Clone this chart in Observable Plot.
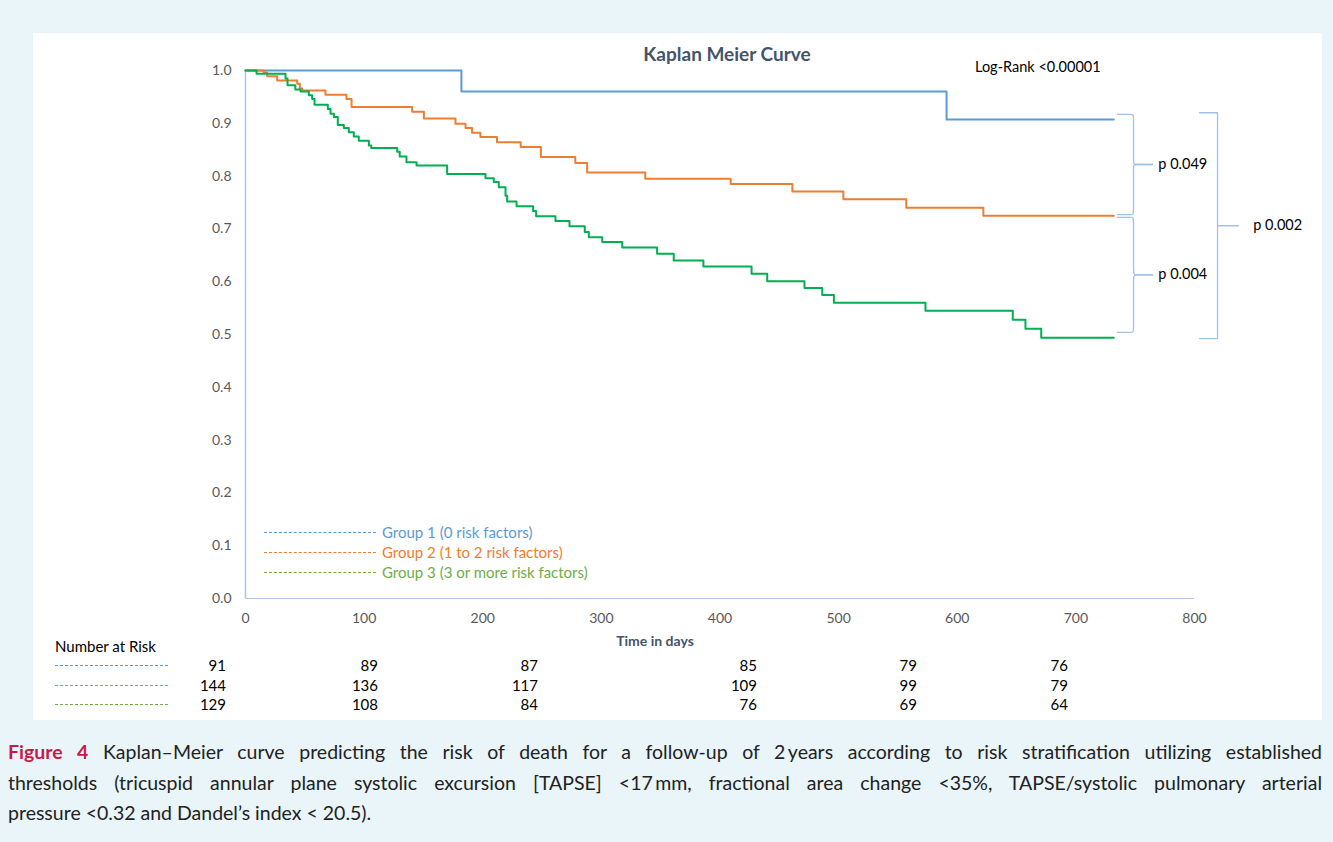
<!DOCTYPE html>
<html>
<head>
<meta charset="utf-8">
<script src="https://cdn.jsdelivr.net/npm/d3@7"></script>
<script src="https://cdn.jsdelivr.net/npm/@observablehq/plot@0.6"></script>
<style>
  html, body { margin: 0; padding: 0; }
  body { width: 1333px; height: 842px; background: #e9f5f8; position: relative; overflow: hidden; font-family: Lato, "Open Sans", sans-serif; }
  #panel { position: absolute; left: 33px; top: 33px; width: 1289px; height: 687px; background: #fff; }
  #chart { position: absolute; left: 0; top: 0; }
  .t { position: absolute; white-space: nowrap; font-size: 14.5px; line-height: 1; }
  .dash { position: absolute; height: 0; border-top: 1px dashed; }
  .cap { position: absolute; left: 8px; width: 1314px; font-family: Lato, sans-serif; font-size: 19.5px; line-height: 22px; color: #222; white-space: nowrap; text-align: justify; text-align-last: justify; }
</style>
</head>
<body>
<div id="panel"></div>
<div id="chart"></div>
<script>
// ---- data ----
const groupNames = ["Group 1 (0 risk factors)", "Group 2 (1 to 2 risk factors)", "Group 3 (3 or more risk factors)"];
const groupColors = ["#5b9bd5", "#ed7d31", "#00b050"];
const legendTextColors = ["#5b9bd5", "#ed7d31", "#70ad47"];

const g1Days = [0, 182, 591, 732];
const g1Surv = [1.0, 0.960, 0.907, 0.907];

const g2Days = [0, 15.5, 18.3, 26.7, 43.6, 45.8, 47.8, 67.4, 85.1, 89.4, 140.5, 150.4, 177, 185.5, 191, 198, 212, 232, 249, 278, 288, 337, 409, 461, 504, 557, 622, 732];
const g2Surv = [1.0, 0.996, 0.989, 0.981, 0.975, 0.966, 0.962, 0.954, 0.946, 0.931, 0.922, 0.909, 0.899, 0.891, 0.882, 0.874, 0.864, 0.855, 0.836, 0.825, 0.807, 0.795, 0.785, 0.771, 0.756, 0.740, 0.725, 0.725];

const g3Days = [0, 9.3, 33.7, 35.4, 42, 46.4, 53.4, 56.2, 58.2, 69.4, 71.7, 74.5, 77.8, 82.9, 87.1, 91.3, 95.5, 104, 106, 127.9, 130, 135.7, 144.2, 170, 202.3, 209.3, 213.5, 219.2, 220.6, 228.5, 242.5, 245, 261.3, 273.1, 286, 289.4, 300.7, 317.6, 347, 361, 386, 426.6, 439.8, 471.2, 486.2, 496, 573.2, 646.8, 657.5, 670.8, 732];
const g3Surv = [1.0, 0.994, 0.985, 0.972, 0.964, 0.960, 0.953, 0.946, 0.935, 0.927, 0.918, 0.912, 0.897, 0.891, 0.883, 0.875, 0.867, 0.858, 0.853, 0.846, 0.837, 0.826, 0.820, 0.804, 0.796, 0.789, 0.779, 0.763, 0.752, 0.743, 0.734, 0.724, 0.715, 0.705, 0.694, 0.684, 0.675, 0.665, 0.653, 0.640, 0.629, 0.615, 0.601, 0.588, 0.575, 0.560, 0.545, 0.528, 0.511, 0.494, 0.494];

const xTicks = [0, 100, 200, 300, 400, 500, 600, 700, 800];
const yTicks = [0, 0.1, 0.2, 0.3, 0.4, 0.5, 0.6, 0.7, 0.8, 0.9, 1.0];

const pairLabels = ["p 0.049", "p 0.004"];
const pairTops = [0.917, 0.722];
const pairBottoms = [0.727, 0.504];
const overallLabel = "p 0.002";
const overallTop = 0.920;
const overallBottom = 0.492;

const atRisk1 = [91, 89, 87, 85, 79, 76];
const atRisk2 = [144, 136, 117, 109, 99, 79];
const atRisk3 = [129, 108, 84, 76, 69, 64];

const titleText = "Kaplan Meier Curve";
const logRankText = "Log-Rank <0.00001";
const xLabelText = "Time in days";
const riskTitle = "Number at Risk";

// ---- build rows ----
const rows = [];
[[g1Days, g1Surv], [g2Days, g2Surv], [g3Days, g3Surv]].forEach(([d, s], i) => {
  d.forEach((day, j) => rows.push({group: groupNames[i], day, surv: s[j]}));
});

// brace geometry (in data units, beyond the x domain)
const bx0 = 735, bSpine = 748.6, bTip = 764.6, bLabel = 769.5;
const sx0 = 804.2, sSpine = 819.4, sTick = 837, sLabel = 849.5;
const braceRows = [];
pairLabels.forEach((lab, i) => {
  const top = pairTops[i], bot = pairBottoms[i], mid = (top + bot) / 2;
  const up = [[bx0, top], [bSpine, top], [bSpine, top], [bSpine, mid], [bSpine, mid], [bTip, mid]];
  const dn = [[bx0, bot], [bSpine, bot], [bSpine, bot], [bSpine, mid], [bSpine, mid], [bTip, mid]];
  up.forEach(p => braceRows.push({id: lab + "u", x: p[0], y: p[1]}));
  dn.forEach(p => braceRows.push({id: lab + "d", x: p[0], y: p[1]}));
});
const overallMid = (overallTop + overallBottom) / 2;
const squareRows = [
  {id: "s", x: sx0, y: overallTop}, {id: "s", x: sSpine, y: overallTop},
  {id: "s", x: sSpine, y: overallBottom}, {id: "s", x: sx0, y: overallBottom},
  {id: "t", x: sSpine, y: overallMid}, {id: "t", x: sTick, y: overallMid}
];
const pLabels = pairLabels.map((l, i) => ({x: bLabel, y: (pairTops[i] + pairBottoms[i]) / 2, text: l}));
pLabels.push({x: sLabel, y: overallMid, text: overallLabel});

const bracketColor = "#9dc3e6";

const chart = Plot.plot({
  width: 1333,
  height: 640,
  marginLeft: 245,
  marginRight: 139,
  marginTop: 70,
  marginBottom: 42,
  style: {fontFamily: "Lato, sans-serif", fontSize: "14px", color: "#595959", background: "transparent", overflow: "visible"},
  x: {domain: [0, 800], ticks: xTicks, tickSize: 0, tickPadding: 15, label: null},
  y: {domain: [0, 1], ticks: yTicks, tickSize: 0, tickPadding: 14, tickFormat: d3.format(".1f"), label: null},
  color: {domain: groupNames, range: groupColors},
  marks: [
    Plot.ruleY([0], {stroke: "#b4c4de", strokeWidth: 1.2}),
    Plot.ruleX([0], {stroke: "#a9c4e6", strokeWidth: 1.5}),
    Plot.line(rows, {x: "day", y: "surv", z: "group", stroke: "group", curve: "step-after", strokeWidth: 2}),
    Plot.line(braceRows, {x: "x", y: "y", z: "id", stroke: bracketColor, strokeWidth: 1.3, curve: "basis"}),
    Plot.line(squareRows, {x: "x", y: "y", z: "id", stroke: bracketColor, strokeWidth: 1.3}),
    Plot.text(pLabels, {x: "x", y: "y", text: "text", textAnchor: "start", fill: "#000", fontSize: 14.5})
  ]
});
document.getElementById("chart").appendChild(chart);

// ---- HTML text helpers ----
function place(text, x, y, opts = {}) {
  const el = document.createElement("div");
  el.className = "t";
  el.textContent = text;
  el.style.left = x + "px";
  el.style.top = y + "px";
  const ax = opts.anchor === "middle" ? "-50%" : opts.anchor === "end" ? "-100%" : "0";
  el.style.transform = `translate(${ax}, -50%)`;
  if (opts.color) el.style.color = opts.color;
  if (opts.bold) el.style.fontWeight = "700";
  if (opts.size) el.style.fontSize = opts.size + "px";
  document.body.appendChild(el);
  return el;
}
function dash(x, y, w, color) {
  const el = document.createElement("div");
  el.className = "dash";
  el.style.left = x + "px";
  el.style.top = y + "px";
  el.style.width = w + "px";
  el.style.borderTopColor = color;
  document.body.appendChild(el);
}

place(titleText, 727, 53, {anchor: "middle", bold: true, size: 19, color: "#44546a"});
place(logRankText, 975, 67, {color: "#000"});
place(xLabelText, 655, 641, {anchor: "middle", bold: true, size: 14, color: "#44546a"});

// legend inside plot
const legendY = [532, 552, 572];
groupNames.forEach((g, i) => {
  dash(264, legendY[i], 112, legendTextColors[i]);
  place(g, 382, legendY[i], {color: legendTextColors[i], size: 15});
});

// number at risk table
place(riskTitle, 55, 646, {color: "#000", size: 15});
const riskRows = [atRisk1, atRisk2, atRisk3];
const riskY = [665, 685, 704];
const colRight = [226, 378, 538, 757, 917, 1068];
riskRows.forEach((vals, i) => {
  dash(55, riskY[i], 113, legendTextColors[i]);
  vals.forEach((v, j) => place(String(v), colRight[j], riskY[i], {anchor: "end", color: "#000", size: 15}));
});

// caption
const capLines = [
  '<b style="color:#c91a47">Figure 4</b> Kaplan\u2013Meier curve predicting the risk of death for a follow-up of 2\u2009years according to risk stratification utilizing established',
  'thresholds (tricuspid annular plane systolic excursion [TAPSE] &lt;17\u2009mm, fractional area change &lt;35%, TAPSE/systolic pulmonary arterial',
  'pressure &lt;0.32 and Dandel\u2019s index &lt; 20.5).'
];
const capY = [741, 772, 802];
capLines.forEach((h, i) => {
  const el = document.createElement("div");
  el.className = "cap";
  el.innerHTML = h;
  el.style.top = capY[i] + "px";
  if (i === 2) { el.style.textAlign = "left"; el.style.textAlignLast = "left"; }
  document.body.appendChild(el);
});
</script>
</body>
</html>
